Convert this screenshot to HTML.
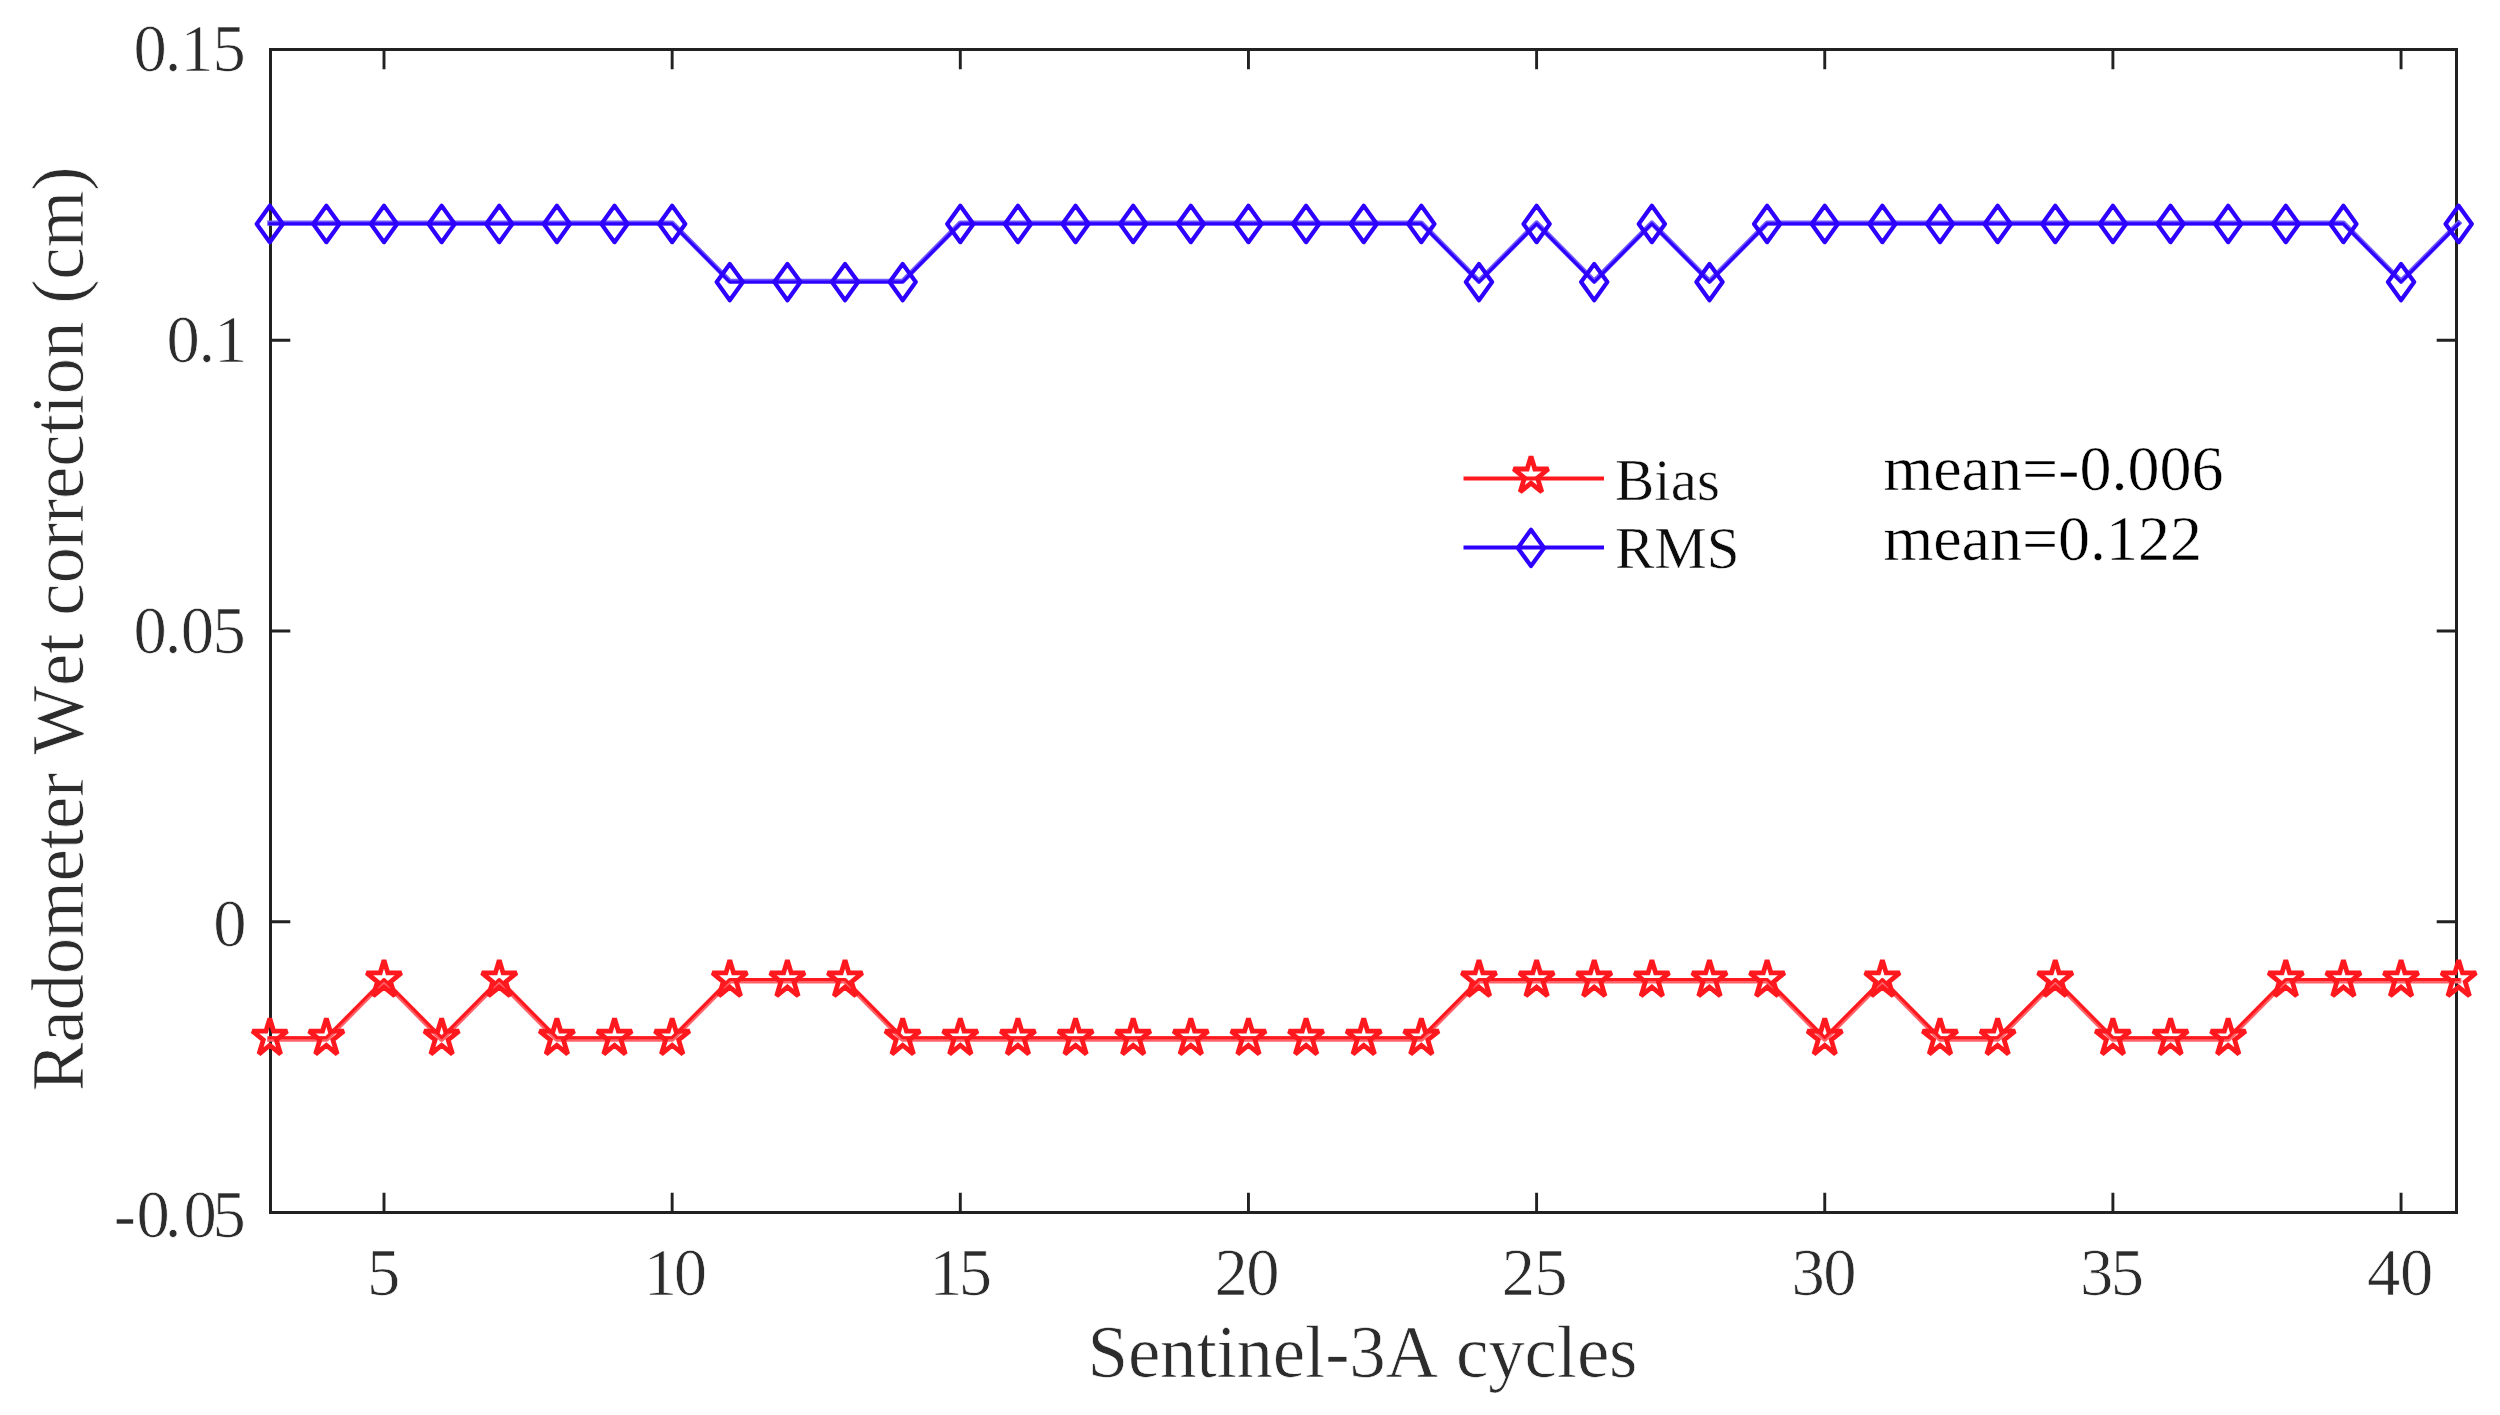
<!DOCTYPE html>
<html lang="en"><head><meta charset="utf-8"><title>Radometer Wet correction</title>
<style>html,body{margin:0;padding:0;background:#fff;}body{width:2500px;height:1415px;overflow:hidden;}svg{display:block;}text{font-family:"Liberation Serif",serif;font-kerning:none;}.th{stroke:#fff;stroke-width:0.7px;}.tl{stroke:#fff;stroke-width:0.5px;}</style></head><body>
<svg width="2500" height="1415" viewBox="0 0 2500 1415">
<rect width="2500" height="1415" fill="#fff"/>
<g stroke="#212121" stroke-width="3" fill="none" stroke-linecap="butt">
<rect x="270.5" y="49.5" width="2186.0" height="1163.0"/>
</g>
<g stroke="#212121" stroke-width="2.9" fill="none">
<path d="M384.00 1212.5v-19.8M384.00 49.5v19.8"/>
<path d="M672.15 1212.5v-19.8M672.15 49.5v19.8"/>
<path d="M960.30 1212.5v-19.8M960.30 49.5v19.8"/>
<path d="M1248.45 1212.5v-19.8M1248.45 49.5v19.8"/>
<path d="M1536.60 1212.5v-19.8M1536.60 49.5v19.8"/>
<path d="M1824.75 1212.5v-19.8M1824.75 49.5v19.8"/>
<path d="M2112.90 1212.5v-19.8M2112.90 49.5v19.8"/>
<path d="M2401.05 1212.5v-19.8M2401.05 49.5v19.8"/>
<path d="M270.5 340.25h19.8M2456.5 340.25h-19.8"/>
<path d="M270.5 631.00h19.8M2456.5 631.00h-19.8"/>
<path d="M270.5 921.75h19.8M2456.5 921.75h-19.8"/>
</g>
<g class="th" fill="#2c2c2c" font-size="66.6">
<text x="366.93" y="1294.6">5</text>
<text x="643.75" y="1294.6" dx="0.00 -3.28">10</text>
<text x="929.15" y="1294.6" dx="0.00 -3.72">15</text>
<text x="1214.47" y="1294.6" dx="0.00 -1.61">20</text>
<text x="1501.87" y="1294.6" dx="0.00 -1.04">25</text>
<text x="1791.41" y="1294.6" dx="0.00 -1.35">30</text>
<text x="2080.01" y="1294.6" dx="0.00 -2.68">35</text>
<text x="2367.10" y="1294.6" dx="0.00 -0.44">40</text>
<text x="133.46" y="71.1" dx="0.00 -2.05 -1.21 -1.02">0.15</text>
<text x="166.56" y="362.0" dx="0.00 -1.25 -1.31">0.1</text>
<text x="133.46" y="652.5" dx="0.00 -2.05 -0.70 -1.53">0.05</text>
<text x="213.36" y="946.0">0</text>
<text x="113.73" y="1236.5" dx="0.00 0.46 -4.95 2.10 -4.33">-0.05</text>
</g>
<text class="th" x="1362.4" y="1376.8" text-anchor="middle" font-size="73" letter-spacing="-0.2" fill="#2c2c2c">Sentinel-3A cycles</text>
<text class="th" transform="translate(83 629) rotate(-90)" text-anchor="middle" font-size="73" letter-spacing="-0.2" fill="#2c2c2c">Radometer Wet correction (cm)</text>
<polyline points="269.80,223.10 326.37,223.10 384.00,223.10 441.63,223.10 499.26,223.10 556.89,223.10 614.52,223.10 672.15,223.10 729.78,281.25 787.41,281.25 845.04,281.25 902.67,281.25 960.30,223.10 1017.93,223.10 1075.56,223.10 1133.19,223.10 1190.82,223.10 1248.45,223.10 1306.08,223.10 1363.71,223.10 1421.34,223.10 1478.97,281.25 1536.60,223.10 1594.23,281.25 1651.86,223.10 1709.49,281.25 1767.12,223.10 1824.75,223.10 1882.38,223.10 1940.01,223.10 1997.64,223.10 2055.27,223.10 2112.90,223.10 2170.53,223.10 2228.16,223.10 2285.79,223.10 2343.42,223.10 2401.05,281.25 2458.68,223.10" fill="none" stroke="#6d59ff" stroke-width="5.2" stroke-linejoin="round" stroke-linecap="square"/>
<polyline points="269.80,223.80 326.37,223.80 384.00,223.80 441.63,223.80 499.26,223.80 556.89,223.80 614.52,223.80 672.15,223.80 729.78,281.95 787.41,281.95 845.04,281.95 902.67,281.95 960.30,223.80 1017.93,223.80 1075.56,223.80 1133.19,223.80 1190.82,223.80 1248.45,223.80 1306.08,223.80 1363.71,223.80 1421.34,223.80 1478.97,281.95 1536.60,223.80 1594.23,281.95 1651.86,223.80 1709.49,281.95 1767.12,223.80 1824.75,223.80 1882.38,223.80 1940.01,223.80 1997.64,223.80 2055.27,223.80 2112.90,223.80 2170.53,223.80 2228.16,223.80 2285.79,223.80 2343.42,223.80 2401.05,281.95 2458.68,223.80" fill="none" stroke="#2e00ff" stroke-width="3.0" stroke-linejoin="round" stroke-linecap="square"/>
<path d="M269.80 205.75L282.90 223.95L269.80 242.15L256.70 223.95ZM326.37 205.75L339.47 223.95L326.37 242.15L313.27 223.95ZM384.00 205.75L397.10 223.95L384.00 242.15L370.90 223.95ZM441.63 205.75L454.73 223.95L441.63 242.15L428.53 223.95ZM499.26 205.75L512.36 223.95L499.26 242.15L486.16 223.95ZM556.89 205.75L569.99 223.95L556.89 242.15L543.79 223.95ZM614.52 205.75L627.62 223.95L614.52 242.15L601.42 223.95ZM672.15 205.75L685.25 223.95L672.15 242.15L659.05 223.95ZM729.78 263.90L742.88 282.10L729.78 300.30L716.68 282.10ZM787.41 263.90L800.51 282.10L787.41 300.30L774.31 282.10ZM845.04 263.90L858.14 282.10L845.04 300.30L831.94 282.10ZM902.67 263.90L915.77 282.10L902.67 300.30L889.57 282.10ZM960.30 205.75L973.40 223.95L960.30 242.15L947.20 223.95ZM1017.93 205.75L1031.03 223.95L1017.93 242.15L1004.83 223.95ZM1075.56 205.75L1088.66 223.95L1075.56 242.15L1062.46 223.95ZM1133.19 205.75L1146.29 223.95L1133.19 242.15L1120.09 223.95ZM1190.82 205.75L1203.92 223.95L1190.82 242.15L1177.72 223.95ZM1248.45 205.75L1261.55 223.95L1248.45 242.15L1235.35 223.95ZM1306.08 205.75L1319.18 223.95L1306.08 242.15L1292.98 223.95ZM1363.71 205.75L1376.81 223.95L1363.71 242.15L1350.61 223.95ZM1421.34 205.75L1434.44 223.95L1421.34 242.15L1408.24 223.95ZM1478.97 263.90L1492.07 282.10L1478.97 300.30L1465.87 282.10ZM1536.60 205.75L1549.70 223.95L1536.60 242.15L1523.50 223.95ZM1594.23 263.90L1607.33 282.10L1594.23 300.30L1581.13 282.10ZM1651.86 205.75L1664.96 223.95L1651.86 242.15L1638.76 223.95ZM1709.49 263.90L1722.59 282.10L1709.49 300.30L1696.39 282.10ZM1767.12 205.75L1780.22 223.95L1767.12 242.15L1754.02 223.95ZM1824.75 205.75L1837.85 223.95L1824.75 242.15L1811.65 223.95ZM1882.38 205.75L1895.48 223.95L1882.38 242.15L1869.28 223.95ZM1940.01 205.75L1953.11 223.95L1940.01 242.15L1926.91 223.95ZM1997.64 205.75L2010.74 223.95L1997.64 242.15L1984.54 223.95ZM2055.27 205.75L2068.37 223.95L2055.27 242.15L2042.17 223.95ZM2112.90 205.75L2126.00 223.95L2112.90 242.15L2099.80 223.95ZM2170.53 205.75L2183.63 223.95L2170.53 242.15L2157.43 223.95ZM2228.16 205.75L2241.26 223.95L2228.16 242.15L2215.06 223.95ZM2285.79 205.75L2298.89 223.95L2285.79 242.15L2272.69 223.95ZM2343.42 205.75L2356.52 223.95L2343.42 242.15L2330.32 223.95ZM2401.05 263.90L2414.15 282.10L2401.05 300.30L2387.95 282.10ZM2458.68 205.75L2471.78 223.95L2458.68 242.15L2445.58 223.95Z" fill="none" stroke="#2e00ff" stroke-width="4.2" stroke-linejoin="round"/>
<polyline points="269.80,1039.00 326.37,1039.00 384.00,980.85 441.63,1039.00 499.26,980.85 556.89,1039.00 614.52,1039.00 672.15,1039.00 729.78,980.85 787.41,980.85 845.04,980.85 902.67,1039.00 960.30,1039.00 1017.93,1039.00 1075.56,1039.00 1133.19,1039.00 1190.82,1039.00 1248.45,1039.00 1306.08,1039.00 1363.71,1039.00 1421.34,1039.00 1478.97,980.85 1536.60,980.85 1594.23,980.85 1651.86,980.85 1709.49,980.85 1767.12,980.85 1824.75,1039.00 1882.38,980.85 1940.01,1039.00 1997.64,1039.00 2055.27,980.85 2112.90,1039.00 2170.53,1039.00 2228.16,1039.00 2285.79,980.85 2343.42,980.85 2401.05,980.85 2458.68,980.85" fill="none" stroke="#ff6369" stroke-width="5.4" stroke-linejoin="round" stroke-linecap="square"/>
<polyline points="269.80,1037.70 326.37,1037.70 384.00,979.55 441.63,1037.70 499.26,979.55 556.89,1037.70 614.52,1037.70 672.15,1037.70 729.78,979.55 787.41,979.55 845.04,979.55 902.67,1037.70 960.30,1037.70 1017.93,1037.70 1075.56,1037.70 1133.19,1037.70 1190.82,1037.70 1248.45,1037.70 1306.08,1037.70 1363.71,1037.70 1421.34,1037.70 1478.97,979.55 1536.60,979.55 1594.23,979.55 1651.86,979.55 1709.49,979.55 1767.12,979.55 1824.75,1037.70 1882.38,979.55 1940.01,1037.70 1997.64,1037.70 2055.27,979.55 2112.90,1037.70 2170.53,1037.70 2228.16,1037.70 2285.79,979.55 2343.42,979.55 2401.05,979.55 2458.68,979.55" fill="none" stroke="#ff191e" stroke-width="3.0" stroke-linejoin="round" stroke-linecap="square"/>
<path d="M269.80 1018.45L273.62 1031.05L287.20 1031.05L276.32 1039.93L280.60 1054.05L269.80 1045.24L259.00 1054.05L263.28 1039.93L252.40 1031.05L265.98 1031.05ZM326.37 1018.45L330.19 1031.05L343.77 1031.05L332.89 1039.93L337.17 1054.05L326.37 1045.24L315.57 1054.05L319.85 1039.93L308.97 1031.05L322.55 1031.05ZM384.00 960.30L387.82 972.90L401.40 972.90L390.52 981.78L394.80 995.90L384.00 987.09L373.20 995.90L377.48 981.78L366.60 972.90L380.18 972.90ZM441.63 1018.45L445.45 1031.05L459.03 1031.05L448.15 1039.93L452.43 1054.05L441.63 1045.24L430.83 1054.05L435.11 1039.93L424.23 1031.05L437.81 1031.05ZM499.26 960.30L503.08 972.90L516.66 972.90L505.78 981.78L510.06 995.90L499.26 987.09L488.46 995.90L492.74 981.78L481.86 972.90L495.44 972.90ZM556.89 1018.45L560.71 1031.05L574.29 1031.05L563.41 1039.93L567.69 1054.05L556.89 1045.24L546.09 1054.05L550.37 1039.93L539.49 1031.05L553.07 1031.05ZM614.52 1018.45L618.34 1031.05L631.92 1031.05L621.04 1039.93L625.32 1054.05L614.52 1045.24L603.72 1054.05L608.00 1039.93L597.12 1031.05L610.70 1031.05ZM672.15 1018.45L675.97 1031.05L689.55 1031.05L678.67 1039.93L682.95 1054.05L672.15 1045.24L661.35 1054.05L665.63 1039.93L654.75 1031.05L668.33 1031.05ZM729.78 960.30L733.60 972.90L747.18 972.90L736.30 981.78L740.58 995.90L729.78 987.09L718.98 995.90L723.26 981.78L712.38 972.90L725.96 972.90ZM787.41 960.30L791.23 972.90L804.81 972.90L793.93 981.78L798.21 995.90L787.41 987.09L776.61 995.90L780.89 981.78L770.01 972.90L783.59 972.90ZM845.04 960.30L848.86 972.90L862.44 972.90L851.56 981.78L855.84 995.90L845.04 987.09L834.24 995.90L838.52 981.78L827.64 972.90L841.22 972.90ZM902.67 1018.45L906.49 1031.05L920.07 1031.05L909.19 1039.93L913.47 1054.05L902.67 1045.24L891.87 1054.05L896.15 1039.93L885.27 1031.05L898.85 1031.05ZM960.30 1018.45L964.12 1031.05L977.70 1031.05L966.82 1039.93L971.10 1054.05L960.30 1045.24L949.50 1054.05L953.78 1039.93L942.90 1031.05L956.48 1031.05ZM1017.93 1018.45L1021.75 1031.05L1035.33 1031.05L1024.45 1039.93L1028.73 1054.05L1017.93 1045.24L1007.13 1054.05L1011.41 1039.93L1000.53 1031.05L1014.11 1031.05ZM1075.56 1018.45L1079.38 1031.05L1092.96 1031.05L1082.08 1039.93L1086.36 1054.05L1075.56 1045.24L1064.76 1054.05L1069.04 1039.93L1058.16 1031.05L1071.74 1031.05ZM1133.19 1018.45L1137.01 1031.05L1150.59 1031.05L1139.71 1039.93L1143.99 1054.05L1133.19 1045.24L1122.39 1054.05L1126.67 1039.93L1115.79 1031.05L1129.37 1031.05ZM1190.82 1018.45L1194.64 1031.05L1208.22 1031.05L1197.34 1039.93L1201.62 1054.05L1190.82 1045.24L1180.02 1054.05L1184.30 1039.93L1173.42 1031.05L1187.00 1031.05ZM1248.45 1018.45L1252.27 1031.05L1265.85 1031.05L1254.97 1039.93L1259.25 1054.05L1248.45 1045.24L1237.65 1054.05L1241.93 1039.93L1231.05 1031.05L1244.63 1031.05ZM1306.08 1018.45L1309.90 1031.05L1323.48 1031.05L1312.60 1039.93L1316.88 1054.05L1306.08 1045.24L1295.28 1054.05L1299.56 1039.93L1288.68 1031.05L1302.26 1031.05ZM1363.71 1018.45L1367.53 1031.05L1381.11 1031.05L1370.23 1039.93L1374.51 1054.05L1363.71 1045.24L1352.91 1054.05L1357.19 1039.93L1346.31 1031.05L1359.89 1031.05ZM1421.34 1018.45L1425.16 1031.05L1438.74 1031.05L1427.86 1039.93L1432.14 1054.05L1421.34 1045.24L1410.54 1054.05L1414.82 1039.93L1403.94 1031.05L1417.52 1031.05ZM1478.97 960.30L1482.79 972.90L1496.37 972.90L1485.49 981.78L1489.77 995.90L1478.97 987.09L1468.17 995.90L1472.45 981.78L1461.57 972.90L1475.15 972.90ZM1536.60 960.30L1540.42 972.90L1554.00 972.90L1543.12 981.78L1547.40 995.90L1536.60 987.09L1525.80 995.90L1530.08 981.78L1519.20 972.90L1532.78 972.90ZM1594.23 960.30L1598.05 972.90L1611.63 972.90L1600.75 981.78L1605.03 995.90L1594.23 987.09L1583.43 995.90L1587.71 981.78L1576.83 972.90L1590.41 972.90ZM1651.86 960.30L1655.68 972.90L1669.26 972.90L1658.38 981.78L1662.66 995.90L1651.86 987.09L1641.06 995.90L1645.34 981.78L1634.46 972.90L1648.04 972.90ZM1709.49 960.30L1713.31 972.90L1726.89 972.90L1716.01 981.78L1720.29 995.90L1709.49 987.09L1698.69 995.90L1702.97 981.78L1692.09 972.90L1705.67 972.90ZM1767.12 960.30L1770.94 972.90L1784.52 972.90L1773.64 981.78L1777.92 995.90L1767.12 987.09L1756.32 995.90L1760.60 981.78L1749.72 972.90L1763.30 972.90ZM1824.75 1018.45L1828.57 1031.05L1842.15 1031.05L1831.27 1039.93L1835.55 1054.05L1824.75 1045.24L1813.95 1054.05L1818.23 1039.93L1807.35 1031.05L1820.93 1031.05ZM1882.38 960.30L1886.20 972.90L1899.78 972.90L1888.90 981.78L1893.18 995.90L1882.38 987.09L1871.58 995.90L1875.86 981.78L1864.98 972.90L1878.56 972.90ZM1940.01 1018.45L1943.83 1031.05L1957.41 1031.05L1946.53 1039.93L1950.81 1054.05L1940.01 1045.24L1929.21 1054.05L1933.49 1039.93L1922.61 1031.05L1936.19 1031.05ZM1997.64 1018.45L2001.46 1031.05L2015.04 1031.05L2004.16 1039.93L2008.44 1054.05L1997.64 1045.24L1986.84 1054.05L1991.12 1039.93L1980.24 1031.05L1993.82 1031.05ZM2055.27 960.30L2059.09 972.90L2072.67 972.90L2061.79 981.78L2066.07 995.90L2055.27 987.09L2044.47 995.90L2048.75 981.78L2037.87 972.90L2051.45 972.90ZM2112.90 1018.45L2116.72 1031.05L2130.30 1031.05L2119.42 1039.93L2123.70 1054.05L2112.90 1045.24L2102.10 1054.05L2106.38 1039.93L2095.50 1031.05L2109.08 1031.05ZM2170.53 1018.45L2174.35 1031.05L2187.93 1031.05L2177.05 1039.93L2181.33 1054.05L2170.53 1045.24L2159.73 1054.05L2164.01 1039.93L2153.13 1031.05L2166.71 1031.05ZM2228.16 1018.45L2231.98 1031.05L2245.56 1031.05L2234.68 1039.93L2238.96 1054.05L2228.16 1045.24L2217.36 1054.05L2221.64 1039.93L2210.76 1031.05L2224.34 1031.05ZM2285.79 960.30L2289.61 972.90L2303.19 972.90L2292.31 981.78L2296.59 995.90L2285.79 987.09L2274.99 995.90L2279.27 981.78L2268.39 972.90L2281.97 972.90ZM2343.42 960.30L2347.24 972.90L2360.82 972.90L2349.94 981.78L2354.22 995.90L2343.42 987.09L2332.62 995.90L2336.90 981.78L2326.02 972.90L2339.60 972.90ZM2401.05 960.30L2404.87 972.90L2418.45 972.90L2407.57 981.78L2411.85 995.90L2401.05 987.09L2390.25 995.90L2394.53 981.78L2383.65 972.90L2397.23 972.90ZM2458.68 960.30L2462.50 972.90L2476.08 972.90L2465.20 981.78L2469.48 995.90L2458.68 987.09L2447.88 995.90L2452.16 981.78L2441.28 972.90L2454.86 972.90Z" fill="none" stroke="#ff191e" stroke-width="4.8" stroke-linejoin="miter" stroke-miterlimit="2"/>
<path d="M1463.5 478.6H1604" stroke="#ff191e" stroke-width="4"/>
<path d="M1531.00 456.40L1534.82 469.00L1548.40 469.00L1537.52 477.88L1541.80 492.00L1531.00 483.19L1520.20 492.00L1524.48 477.88L1513.60 469.00L1527.18 469.00Z" fill="none" stroke="#ff191e" stroke-width="4.8" stroke-linejoin="miter" stroke-miterlimit="2"/>
<path d="M1463.5 547.4H1604" stroke="#2e00ff" stroke-width="4"/>
<path d="M1531.00 529.70L1544.10 547.90L1531.00 566.10L1517.90 547.90Z" fill="none" stroke="#2e00ff" stroke-width="4.2" stroke-linejoin="round"/>
<text class="tl" x="1615" y="499.8" font-size="59" fill="#0d0d0d">Bias</text>
<text class="tl" x="1615" y="568.3" font-size="59" fill="#0d0d0d">RMS</text>
<text class="tl" x="1883.4" y="490.4" font-size="64" fill="#000">mean=-0.006</text>
<text class="tl" x="1883.4" y="560" font-size="64" fill="#000">mean=0.122</text>
</svg></body></html>
